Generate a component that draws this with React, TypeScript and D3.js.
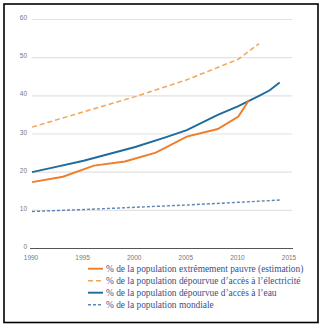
import React from "react";
import * as d3 from "d3";

const povertyYears = [1990, 1993, 1996, 1999, 2002, 2005, 2008, 2010, 2011];
const povertyValues = [17.4, 18.8, 21.7, 22.8, 25.1, 29.3, 31.3, 34.6, 38.8];

const electricityYears = [1990, 1995, 2000, 2005, 2010, 2012];
const electricityValues = [31.8, 35.8, 39.8, 44.2, 49.6, 53.7];

const waterYears = [1990, 1992, 1995, 2000, 2003, 2005, 2008, 2010, 2012, 2013, 2014];
const waterValues = [20, 21.2, 23, 26.6, 29.2, 31, 35, 37.3, 40, 41.4, 43.5];

const worldYears = [1990, 1995, 2000, 2005, 2010, 2014];
const worldValues = [9.7, 10.2, 10.8, 11.4, 12.1, 12.7];

const yTicks = [0, 10, 20, 30, 40, 50, 60];
const xTicks = [1990, 1995, 2000, 2005, 2010, 2015];

const legendLabels = [
  "% de la population extrêmement pauvre (estimation)",
  "% de la population dépourvue d’accès à l’électricité",
  "% de la population dépourvue d’accès à l’eau",
  "% de la population mondiale",
];

const seriesStyles = [
  { color: "#ef7d2a", dash: "", width: 1.9 },
  { color: "#f2a45a", dash: "5,3", width: 1.5 },
  { color: "#1e6b9e", dash: "", width: 1.9 },
  { color: "#5e84b8", dash: "3,2", width: 1.4 },
];

export default function App() {
  const W = 324;
  const H = 331;
  const x = d3.scaleLinear().domain([1990, 2015]).range([32, 290]);
  const y = d3.scaleLinear().domain([0, 60]).range([248.5, 19.5]);
  const line = d3
    .line<[number, number]>()
    .x((d) => x(d[0]))
    .y((d) => y(d[1]));
  const series: [number[], number[]][] = [
    [povertyYears, povertyValues],
    [electricityYears, electricityValues],
    [waterYears, waterValues],
    [worldYears, worldValues],
  ];
  const order = [3, 1, 2, 0];
  return (
    <svg
      width={W}
      height={H}
      style={{ position: "absolute", left: 0, top: 0, background: "#fff" }}
    >
      <rect x={4} y={4} width={314} height={318.5} fill="#fff" stroke="#000" strokeWidth={1.6} />
      {yTicks.map((t) =>
        t === 0 ? null : (
          <line key={t} x1={32} x2={292} y1={y(t)} y2={y(t)} stroke="#e2e2e2" strokeWidth={1.2} />
        )
      )}
      <line x1={30} x2={293} y1={y(0)} y2={y(0)} stroke="#555" strokeWidth={1.2} />
      {yTicks.map((t) => (
        <text
          key={t}
          x={27}
          y={y(t) + 0.5}
          textAnchor="end"
          fontFamily="Liberation Sans, Arial, sans-serif"
          fontSize={6.5}
          fill="#777"
        >
          {t}
        </text>
      ))}
      {xTicks.map((t) => (
        <text
          key={t}
          x={x(t) - 1}
          y={259.5}
          textAnchor="middle"
          fontFamily="Liberation Sans, Arial, sans-serif"
          fontSize={6.5}
          fill="#777"
        >
          {t}
        </text>
      ))}
      {order.map((i) => {
        const [xs, vs] = series[i];
        const pts = xs.map((yr, k) => [yr, vs[k]] as [number, number]);
        const s = seriesStyles[i];
        return (
          <path
            key={i}
            d={line(pts) || ""}
            fill="none"
            stroke={s.color}
            strokeWidth={s.width}
            strokeDasharray={s.dash}
          />
        );
      })}
      {legendLabels.map((lab, i) => {
        const s = seriesStyles[i];
        const ly = 268.7 + i * 12;
        return (
          <g key={i}>
            <line
              x1={88}
              x2={103}
              y1={ly}
              y2={ly}
              stroke={s.color}
              strokeWidth={s.width}
              strokeDasharray={s.dash}
            />
            <text
              x={106}
              y={ly + 3.3}
              fontFamily="Liberation Serif, Times New Roman, serif"
              fontSize={9.4}
              fill="#3a4f88"
            >
              {lab}
            </text>
          </g>
        );
      })}
    </svg>
  );
}
